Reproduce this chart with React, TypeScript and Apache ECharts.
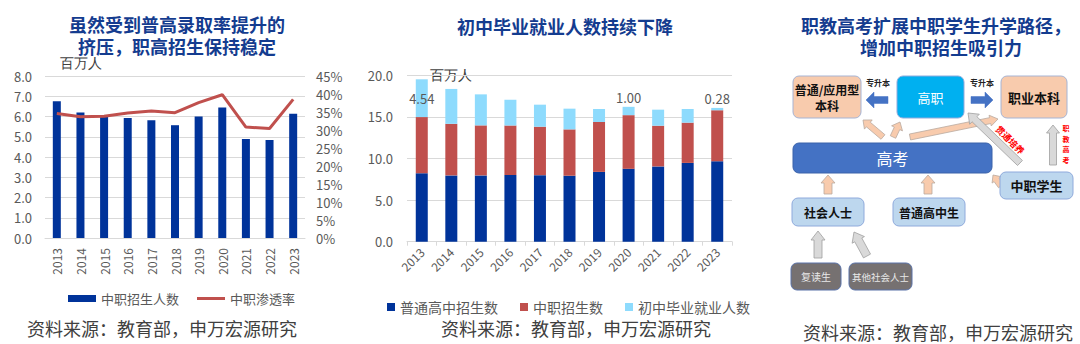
import React, { useEffect, useRef } from 'react';
import * as echarts from 'echarts';

const years = ['2013', '2014', '2015', '2016', '2017', '2018', '2019', '2020', '2021', '2022', '2023'];
// Chart 1
const vocEnroll = [6.75, 6.2, 6.01, 5.93, 5.82, 5.57, 6.0, 6.45, 4.89, 4.84, 6.13];
const vocRate = [34.6, 33.7, 33.8, 34.7, 35.3, 34.8, 37.6, 39.8, 30.8, 30.4, 38.5];
// Chart 2
const hsEnroll = [8.23, 7.97, 7.97, 8.03, 8.0, 7.93, 8.39, 8.76, 9.05, 9.47, 9.67];
const vocEnroll2 = [6.75, 6.2, 6.01, 5.93, 5.82, 5.57, 6.0, 6.45, 4.89, 4.84, 6.13];
const employed = [4.54, 4.19, 3.73, 3.11, 2.65, 2.49, 1.56, 1.0, 1.93, 1.64, 0.28];
const labeledYears = ['2013', '2020', '2023'];

const titles = {
  c1: ['虽然受到普高录取率提升的', '挤压，职高招生保持稳定'],
  c2: '初中毕业就业人数持续下降',
  c3: ['职教高考扩展中职学生升学路径，', '增加中职招生吸引力'],
};
const sourceText = '资料来源：教育部，申万宏源研究';
const unitText = '百万人';
const vertLabel = ['职', '教', '高', '考'];

const CJK = '"Noto Sans CJK SC", "Noto Sans", sans-serif';
const TITLE_COLOR = '#143C8F';
const AX = '#595959';
const GRID = '#D9D9D9';
const BLUE = '#00339A';
const RED = '#C0504D';
const LBLUE = '#8EDBFD';

function arrowPts(x1: number, y1: number, x2: number, y2: number, sw: number, hw: number, hl: number) {
  const dx = x2 - x1, dy = y2 - y1;
  const L = Math.hypot(dx, dy);
  const ux = dx / L, uy = dy / L;
  const nx = -uy, ny = ux;
  const bx = x2 - ux * hl, by = y2 - uy * hl;
  return [
    [x1 + nx * sw / 2, y1 + ny * sw / 2],
    [bx + nx * sw / 2, by + ny * sw / 2],
    [bx + nx * hw / 2, by + ny * hw / 2],
    [x2, y2],
    [bx - nx * hw / 2, by - ny * hw / 2],
    [bx - nx * sw / 2, by - ny * sw / 2],
    [x1 - nx * sw / 2, y1 - ny * sw / 2],
  ];
}

function arrow(x1: number, y1: number, x2: number, y2: number, kind: string, sw = 7, hw = 14, hl = 8) {
  const styles: any = {
    peach: { fill: '#F8CBAD', stroke: '#B9A9A0', lineWidth: 0.8 },
    gray: { fill: '#D9D9D9', stroke: '#A0A0A0', lineWidth: 0.8 },
    blue: { fill: '#4472C4', stroke: '#4472C4', lineWidth: 0.5 },
  };
  return { type: 'polygon', shape: { points: arrowPts(x1, y1, x2, y2, sw, hw, hl) }, style: styles[kind] };
}

function box(x: number, y: number, w: number, h: number, fill: string, stroke: string, text: string, textColor: string, fontSize: number, fontWeight: any = 'bold') {
  return [
    { type: 'rect', shape: { x, y, width: w, height: h, r: 6 }, style: { fill, stroke, lineWidth: 1 } },
    {
      type: 'text', x: x + w / 2, y: y + h / 2,
      style: { text, fill: textColor, font: `${fontWeight} ${fontSize}px ${CJK}`, align: 'center', verticalAlign: 'middle', lineHeight: fontSize + 4 },
    },
  ];
}

function txt(x: number, y: number, text: string, size: number, color: string, weight: any = 'normal', align = 'center', family = CJK, lineHeight?: number) {
  return {
    type: 'text', x, y,
    style: { text, fill: color, font: `${weight} ${size}px ${family}`, align, verticalAlign: 'middle', lineHeight: lineHeight || size + 4 },
  };
}

export default function App() {
  const ref = useRef<HTMLDivElement>(null);
  useEffect(() => {
    if (!ref.current) return;
    const chart = echarts.init(ref.current, undefined, { renderer: 'svg' });

    const employedData = employed.map((v, i) =>
      labeledYears.includes(years[i])
        ? { value: v, label: { show: true, position: i === 0 ? 'inside' : 'top', distance: 3, formatter: (p: any) => p.value.toFixed(2), color: AX, fontSize: 13, fontFamily: CJK } }
        : v
    );

    const graphics: any[] = [
      // titles
      txt(177, 24, titles.c1[0], 18, TITLE_COLOR, 'bold', 'center', CJK, 20),
      txt(177, 46, titles.c1[1], 18, TITLE_COLOR, 'bold', 'center', CJK, 20),
      txt(565, 26, titles.c2, 18, TITLE_COLOR, 'bold', 'center', CJK, 20),
      txt(936, 25, titles.c3[0], 18, TITLE_COLOR, 'bold', 'center', CJK, 20),
      txt(941, 47, titles.c3[1], 18, TITLE_COLOR, 'bold', 'center', CJK, 20),
      // units
      txt(60, 63, unitText, 14, '#404040', 'normal', 'left', 'serif', 14),
      txt(430, 75, unitText, 14, '#404040', 'normal', 'left', 'serif', 14),
      // sources
      txt(162, 328, sourceText, 18, '#404040'),
      txt(576, 328, sourceText, 18, '#404040'),
      txt(938, 332, sourceText, 18, '#404040'),
      // diagram arrows
      arrow(888, 100, 866, 100, 'blue', 7, 16, 8),
      arrow(971, 100, 993, 100, 'blue', 7, 16, 8),
      arrow(883, 137, 863, 120, 'peach', 6, 12, 7),
      arrow(893, 137, 900, 122, 'peach', 6, 12, 7),
      arrow(910, 137, 998, 119, 'peach', 6, 11, 8),
      arrow(1020, 163, 968, 113, 'gray', 7, 14, 9),
      arrow(1053, 165, 1053, 125, 'gray', 7, 13, 8),
      arrow(1001, 186, 993, 175, 'peach', 6, 11, 6),
      arrow(828, 194, 828, 175, 'peach', 8, 14, 8),
      arrow(928, 194, 928, 175, 'peach', 8, 14, 8),
      arrow(818, 258, 818, 231, 'gray', 8, 14, 9),
      arrow(867, 256, 854, 232, 'gray', 8, 14, 9),
      // boxes
      ...box(793, 76, 68, 42, '#F8CBAD', '#A6B4D4', '普通/应用型\n本科', '#111', 12),
      ...box(897, 76, 67, 42, '#00B0F0', '#8FAADC', '高职', '#FFFFFF', 13, 'normal'),
      ...box(1001, 76, 66, 42, '#F8CBAD', '#A6B4D4', '职业本科', '#111', 13),
      ...box(793, 143, 199, 30, '#4472C4', '#3A62AA', '高考', '#FFFFFF', 16, 'normal'),
      ...box(1000, 172, 73, 27, '#BDD7EE', '#8FAADC', '中职学生', '#111', 13),
      ...box(792, 198, 72, 28, '#BDD7EE', '#8FAADC', '社会人士', '#111', 12),
      ...box(893, 198, 72, 28, '#BDD7EE', '#8FAADC', '普通高中生', '#111', 12),
      ...box(791, 263, 50, 27, '#767171', '#5B73A8', '复读生', '#E8E8E8', 10, 'normal'),
      ...box(849, 263, 63, 27, '#767171', '#5B73A8', '其他社会人士', '#E8E8E8', 9.5, 'normal'),
      txt(878, 82, '专升本', 8, '#222', 'bold'),
      txt(982, 82, '专升本', 8, '#222', 'bold'),
      ...vertLabel.map((c, i) => txt(1066, 128 + i * 10.5, c, 7, '#FF0000', 'bold', 'center', CJK, 8)),
      {
        type: 'text', x: 1010, y: 140, rotation: -Math.PI / 4,
        style: { text: '贯通培养', fill: '#FF0000', font: `bold 9px ${CJK}`, align: 'center', verticalAlign: 'middle' },
      },
    ];

    const option: any = {
      animation: false,
      backgroundColor: '#FFFFFF',
      textStyle: { fontFamily: CJK },
      grid: [
        { left: 45, top: 76, width: 260, height: 162 },
        { left: 407, top: 75.3, width: 325, height: 166.4 },
      ],
      legend: [
        {
          left: 63, top: 287, itemWidth: 28, itemHeight: 7, itemGap: 18,
          textStyle: { fontSize: 13, color: AX, fontFamily: CJK },
          data: [{ name: '中职招生人数', icon: 'rect' }, { name: '中职渗透率', icon: 'path://M0,0H28V3H0Z' }],
        },
        {
          left: 382, top: 295, itemWidth: 8, itemHeight: 8, itemGap: 22, icon: 'rect',
          textStyle: { fontSize: 14, color: AX, fontFamily: CJK },
          data: ['普通高中招生数', '中职招生数', '初中毕业就业人数'],
        },
      ],
      xAxis: [
        {
          gridIndex: 0, type: 'category', data: years,
          axisTick: { show: false },
          axisLine: { lineStyle: { color: GRID } },
          axisLabel: { rotate: 90, fontSize: 12, color: AX, margin: 10 },
        },
        {
          gridIndex: 1, type: 'category', data: years,
          axisTick: { show: true, length: 4, lineStyle: { color: GRID } },
          axisLine: { lineStyle: { color: GRID } },
          axisLabel: { rotate: 45, fontSize: 12, color: AX, margin: 8 },
        },
      ],
      yAxis: [
        {
          gridIndex: 0, type: 'value', min: 0, max: 8, interval: 1,
          axisLabel: { formatter: (v: number) => v.toFixed(1), fontSize: 13, color: AX, margin: 13 },
          splitLine: { lineStyle: { color: GRID } },
          axisLine: { show: false }, axisTick: { show: false },
        },
        {
          gridIndex: 0, type: 'value', min: 0, max: 45, interval: 5, position: 'right',
          axisLabel: { formatter: (v: number) => Math.round(v) + '%', fontSize: 13, color: AX, margin: 11 },
          splitLine: { show: false }, axisLine: { show: false }, axisTick: { show: false },
        },
        {
          gridIndex: 1, type: 'value', min: 0, max: 20, interval: 5,
          axisLabel: { formatter: (v: number) => v.toFixed(1), fontSize: 13, color: AX, margin: 14 },
          splitLine: { lineStyle: { color: GRID } },
          axisLine: { show: false }, axisTick: { show: false },
        },
      ],
      series: [
        { name: '中职招生人数', type: 'bar', xAxisIndex: 0, yAxisIndex: 0, data: vocEnroll, barWidth: 8, itemStyle: { color: BLUE } },
        { name: '中职渗透率', type: 'line', xAxisIndex: 0, yAxisIndex: 1, data: vocRate, symbol: 'none', lineStyle: { color: RED, width: 3 }, itemStyle: { color: RED } },
        { name: '普通高中招生数', type: 'bar', stack: 's', xAxisIndex: 1, yAxisIndex: 2, data: hsEnroll, barWidth: 12, itemStyle: { color: BLUE } },
        { name: '中职招生数', type: 'bar', stack: 's', xAxisIndex: 1, yAxisIndex: 2, data: vocEnroll2, barWidth: 12, itemStyle: { color: RED } },
        { name: '初中毕业就业人数', type: 'bar', stack: 's', xAxisIndex: 1, yAxisIndex: 2, data: employedData, barWidth: 12, itemStyle: { color: LBLUE } },
      ],
      graphic: graphics,
    };
    chart.setOption(option);
    return () => chart.dispose();
  }, []);

  return <div ref={ref} style={{ position: 'absolute', left: 0, top: 0, width: 1080, height: 344, background: '#fff' }} />;
}
